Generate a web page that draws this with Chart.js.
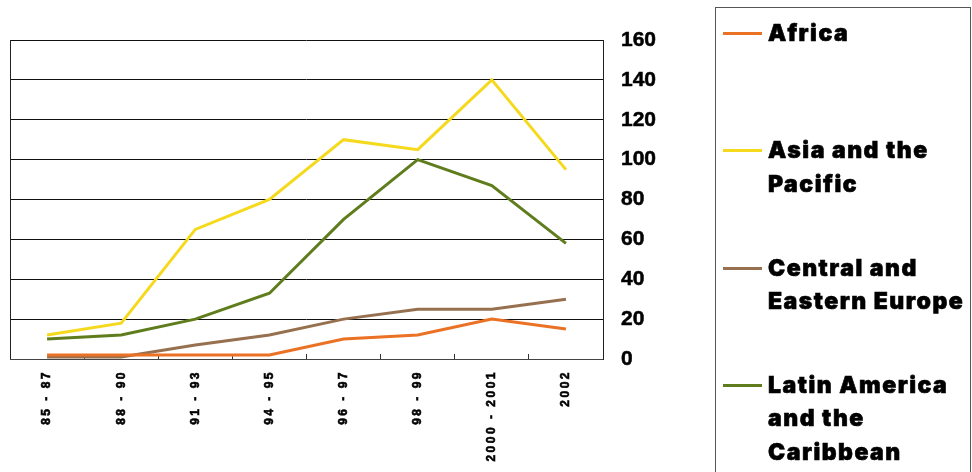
<!DOCTYPE html>
<html>
<head>
<meta charset="utf-8">
<script src="https://cdn.jsdelivr.net/npm/chart.js@4.4.1/dist/chart.umd.min.js"></script>
<style>
  html, body { margin: 0; padding: 0; background: #fff; }
  #wrap { position: relative; width: 972px; height: 472px; overflow: hidden; }
  #chart { position: absolute; left: 0; top: 0; }
  #legend {
    position: absolute; left: 715px; top: 7px; width: 256px; height: 480px;
    border: 1px solid #555; box-sizing: border-box;
    font-family: Inter, sans-serif; font-weight: 900; font-size: 23px; color: #000;
    letter-spacing: 1.5px; -webkit-text-stroke: 0.6px #000;
  }
  .item { position: absolute; left: 52px; line-height: 33.5px; white-space: nowrap; }
  .swatch { position: absolute; left: -45px; top: 15px; width: 39px; height: 3px; }
</style>
</head>
<body>
<div id="wrap">
  <canvas id="chart" width="972" height="472"></canvas>
  <div id="legend"></div>
</div>
<script>
// periods on the x axis
const PERIODS = ['85 - 87', '88 - 90', '91 - 93', '94 - 95', '96 - 97', '98 - 99', '2000 - 2001', '2002'];

// one array per region
const AFRICA = [2, 2, 2, 2, 10, 12, 20, 15];
const ASIA = [12, 18, 65, 80, 110, 105, 140, 95];
const CEE = [1, 1, 7, 12, 20, 25, 25, 30];
const LATAM = [10, 12, 20, 33, 70, 100, 87, 58];

const SERIES_NAMES = ['Africa', 'Asia and the Pacific', 'Central and Eastern Europe', 'Latin America and the Caribbean'];
const LEGEND_LINES = [['Africa'], ['Asia and the', 'Pacific'], ['Central and', 'Eastern Europe'], ['Latin America', 'and the', 'Caribbean']];
const COLORS = ['#eb7125', '#f5d91c', '#96704f', '#5f7d1c'];

const Y_MIN = 0, Y_MAX = 160, Y_STEP = 20;

// x tick labels in the picture are widely spaced
const spacedTicks = {
  id: 'spacedTicks',
  beforeDraw(chart) {
    const sc = chart.scales.x;
    if (sc._spaced) return;
    const orig = sc.drawLabels;
    sc.drawLabels = function (area) {
      this.ctx.save();
      this.ctx.letterSpacing = '2.5px';
      orig.call(this, area);
      this.ctx.restore();
    };
    sc._spaced = true;
  }
};

// left edge of the plot box
const frame = {
  id: 'frame',
  beforeDatasetsDraw(chart) {
    const { ctx, chartArea: a } = chart;
    ctx.save();
    ctx.strokeStyle = '#222';
    ctx.lineWidth = 1;
    ctx.beginPath();
    ctx.moveTo(a.left + 0.5, a.top);
    ctx.lineTo(a.left + 0.5, a.bottom);
    ctx.stroke();
    ctx.restore();
  }
};

const series = [AFRICA, ASIA, CEE, LATAM];

const chart = new Chart(document.getElementById('chart'), {
  type: 'line',
  data: {
    labels: PERIODS,
    datasets: series.map((d, i) => ({
      label: SERIES_NAMES[i],
      data: d,
      borderColor: COLORS[i],
      backgroundColor: COLORS[i],
      borderWidth: 3,
      pointRadius: 0,
      tension: 0
    }))
  },
  options: {
    responsive: false,
    animation: false,
    layout: { padding: { left: 10, top: 40, right: 0, bottom: 0 } },
    plugins: { legend: { display: false }, tooltip: { enabled: false } },
    scales: {
      x: {
        offset: true,
        grid: { offset: true, drawOnChartArea: false, drawTicks: true, tickLength: -5, color: '#333' },
        border: { display: true, color: '#444' },
        ticks: {
          autoSkip: false, minRotation: 90, maxRotation: 90, padding: 16,
          color: '#000', textStrokeColor: '#000', textStrokeWidth: 0.6,
          font: { family: 'Liberation Sans, Arial', size: 12, weight: 'bold' }
        },
        afterFit: s => { s.height = 113; }
      },
      y: {
        position: 'right',
        min: Y_MIN, max: Y_MAX,
        grid: { color: '#111', lineWidth: 1, drawTicks: false },
        border: { display: true, color: '#222' },
        ticks: {
          stepSize: Y_STEP, padding: 18,
          color: '#000', textStrokeColor: '#000', textStrokeWidth: 0.5,
          font: { family: 'Liberation Sans, Arial', size: 21, weight: 'bold' }
        },
        afterFit: s => { s.width = 369; }
      }
    }
  },
  plugins: [spacedTicks, frame]
});
chart.draw();

// legend built from the chart's datasets
const legendEl = document.getElementById('legend');
chart.data.datasets.forEach((ds, i) => {
  const item = document.createElement('div');
  item.className = 'item';
  item.style.top = (9 + i * 117.3) + 'px';
  item.innerHTML = LEGEND_LINES[i].join('<br>');
  const sw = document.createElement('span');
  sw.className = 'swatch';
  sw.style.background = ds.borderColor;
  item.appendChild(sw);
  legendEl.appendChild(item);
});
</script>
</body>
</html>
